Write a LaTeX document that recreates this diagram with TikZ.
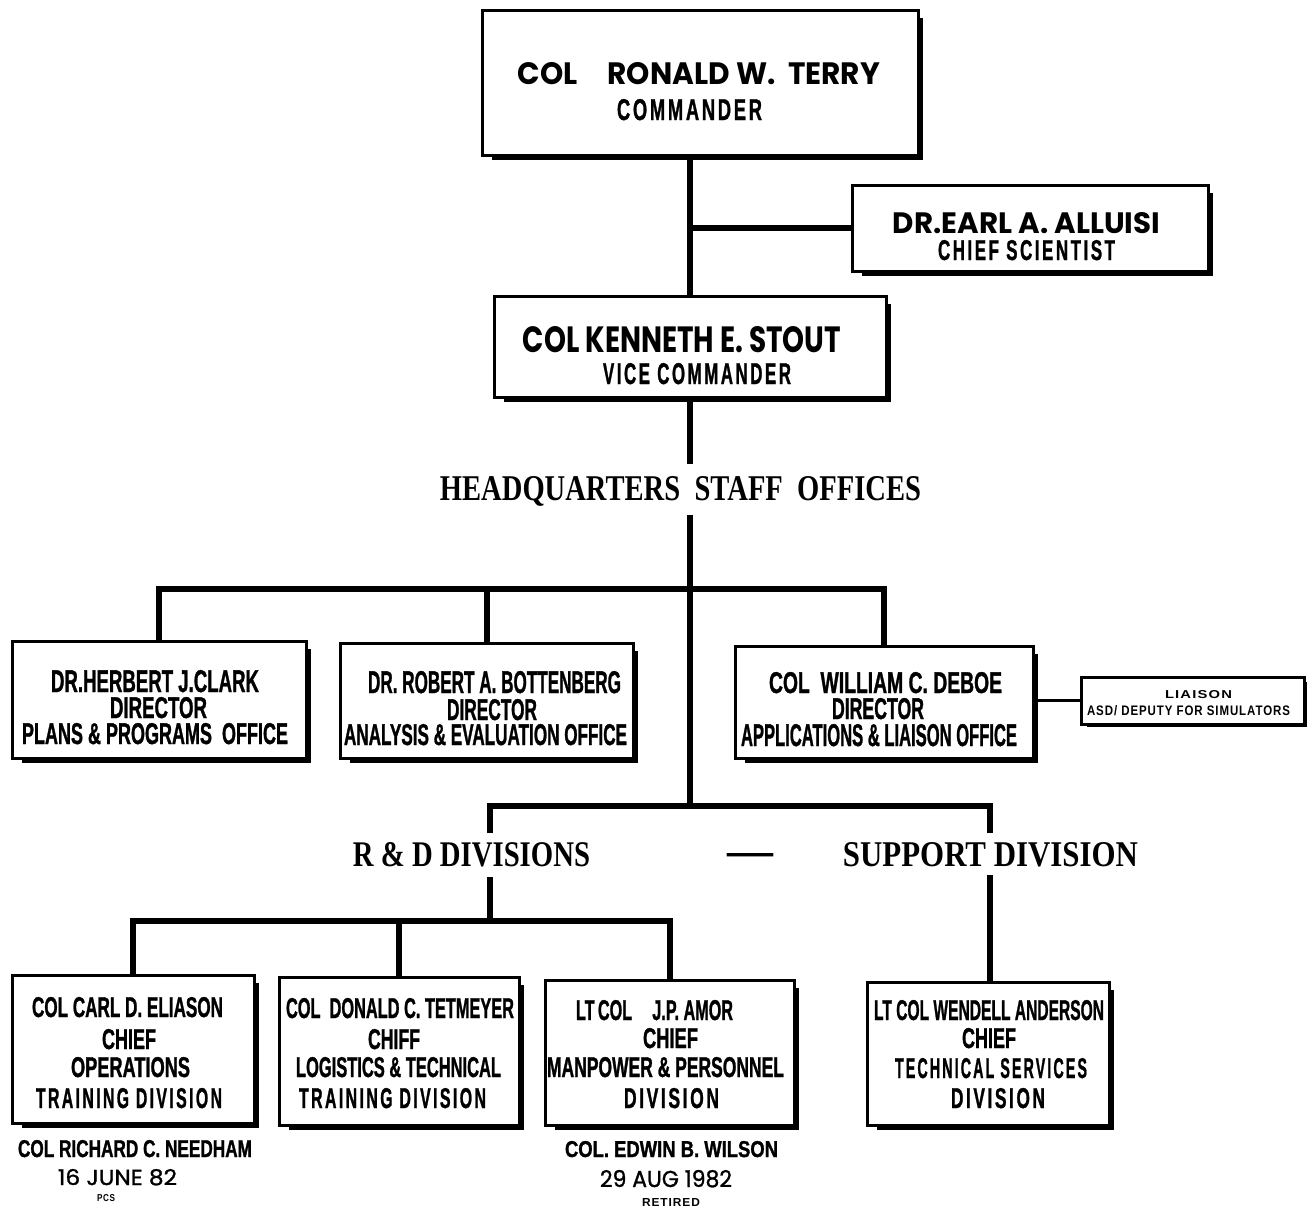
\documentclass[tikz,border=0pt]{standalone}
\usepackage{fontspec}
\usepackage{graphicx}
\setmainfont{Liberation Sans}
\newfontfamily\geofont{Poppins}
\newfontfamily\geomedfont{Poppins}[FakeBold=1.2]
\newfontfamily\condfont{Liberation Sans}[FakeStretch=0.8,FakeBold=1.2]
\newfontfamily\spacedfont{Liberation Sans}[FakeStretch=0.8,LetterSpace=12,FakeBold=1.2]
\newfontfamily\widefont{Liberation Sans}[LetterSpace=8]
\newfontfamily\headfont{Liberation Serif}
\newcommand\gsans{\geofont\bfseries}
\newcommand\gmed{\geomedfont}
\newcommand\csans{\condfont\bfseries}
\newcommand\ssans{\spacedfont\bfseries}
\newcommand\wsans{\widefont\bfseries}
\newcommand\hserif{\headfont\bfseries}

\tikzset{
  obox/.style={draw, line width=3pt, inner sep=0pt, outer sep=0pt},
  boxshade/.style={line width=4pt},
  conn/.style={line width=6pt},
  thinconn/.style={line width=3pt},
  lbl/.style={anchor=base, inner sep=0pt, outer sep=0pt},
}
% box: name, centre x, centre y, width, height
\newcommand\obox[5]{\node[obox, minimum width=#4pt, minimum height=#5pt] (#1) at (#2,#3) {};}
% text line: name, font, centre x, baseline y, width, cap height, text
\newcommand\tline[7]{\node[lbl] (#1) at (#3,#4) {\resizebox{#5pt}{#6pt}{#2#7}};}

\begin{document}
\begin{tikzpicture}[x=1pt,y=-1pt]
\path[use as bounding box, fill=white] (0,0) rectangle (1312,1211);

% boxes
\obox{cmd}{700}{82.5}{436}{145}
\obox{sci}{1030}{228}{356}{86}
\obox{vice}{690}{346.5}{392}{101}
\obox{plans}{159}{699.5}{294}{117}
\obox{anal}{486.5}{700.5}{293}{115}
\obox{appl}{884}{702}{298}{112}
\obox{liai}{1192.5}{700.5}{223}{47}
\obox{ops}{133}{1049}{242}{148}
\obox{logi}{399}{1051}{240}{148}
\obox{man}{669.5}{1052.5}{249}{145}
\obox{tech}{988}{1053.5}{242}{143}

% heavy lower-right edges
\foreach \b in {cmd,sci,vice,plans,anal,appl,ops,logi,man,tech}
  \draw[boxshade] ([xshift=3pt,yshift=-8pt]\b.north east) -- ([xshift=3pt,yshift=-3pt]\b.south east) -- ([xshift=10pt,yshift=-3pt]\b.south west);
\draw[line width=2pt] ([xshift=2pt,yshift=-5pt]liai.north east) -- ([xshift=2pt,yshift=-2pt]liai.south east) -- ([xshift=6pt,yshift=-2pt]liai.south west);

% texts
\tline{cmdA}{\gsans}{699}{84}{362}{22}{COL\quad RONALD W.\ \ TERRY}
\tline{cmdB}{\ssans}{689.5}{120}{145}{21}{COMMANDER}
\tline{sciA}{\gsans}{1026.5}{233}{267}{21}{DR.EARL A. ALLUISI}
\tline{sciB}{\ssans}{1026.5}{260}{177}{20}{CHIEF SCIENTIST}
\tline{viceA}{\gsans}{682}{352}{318}{26}{COL KENNETH E. STOUT}
\tline{viceB}{\ssans}{697}{384}{188}{21}{VICE COMMANDER}
\tline{hq}{\hserif}{680.5}{500}{481}{24}{HEADQUARTERS\ \ STAFF\ \ OFFICES}

\tline{plansA}{\csans}{155}{692}{208}{22}{DR.HERBERT J.CLARK}
\tline{plansB}{\csans}{158.5}{718}{97}{21}{DIRECTOR}
\tline{plansC}{\csans}{155}{744}{266}{21}{PLANS \& PROGRAMS\ \ OFFICE}
\tline{analA}{\csans}{494.5}{693}{253}{22}{DR. ROBERT A. BOTTENBERG}
\tline{analB}{\csans}{492}{720}{90}{21}{DIRECTOR}
\tline{analC}{\csans}{485.5}{745}{283}{21}{ANALYSIS \& EVALUATION OFFICE}
\tline{applA}{\csans}{885.5}{693}{233}{21}{COL\ \ WILLIAM C. DEBOE}
\tline{applB}{\csans}{878}{719}{92}{21}{DIRECTOR}
\tline{applC}{\csans}{879}{746}{276}{22}{APPLICATIONS \& LIAISON OFFICE}
\tline{liaiA}{\wsans}{1198.5}{698}{67}{8}{LIAISON}
\tline{liaiB}{\wsans}{1188.5}{715}{203}{10}{ASD/ DEPUTY FOR SIMULATORS}

\tline{rd}{\hserif}{471.5}{866}{237}{24}{R \& D DIVISIONS}
\tline{dash}{\hserif}{750}{866}{46}{13}{—}
\tline{sup}{\hserif}{990.5}{866}{295}{24}{SUPPORT DIVISION}

\tline{opsA}{\csans}{127.5}{1017}{191}{20}{COL CARL D. ELIASON}
\tline{opsB}{\csans}{129}{1049}{54}{20}{CHIEF}
\tline{opsC}{\csans}{130.5}{1077}{119}{20}{OPERATIONS}
\tline{opsD}{\ssans}{129}{1108}{186}{20}{TRAINING DIVISION}
\tline{logiA}{\csans}{400}{1018}{228}{20}{COL\ \ DONALD C. TETMEYER}
\tline{logiB}{\csans}{394}{1049}{52}{20}{CHIFF}
\tline{logiC}{\csans}{398.5}{1077}{205}{20}{LOGISTICS \& TECHNICAL}
\tline{logiD}{\ssans}{392.5}{1108}{187}{20}{TRAINING DIVISION}
\tline{manA}{\csans}{654.5}{1020}{157}{20}{LT\,COL\quad J.P. AMOR}
\tline{manB}{\csans}{670.5}{1048}{55}{20}{CHIEF}
\tline{manC}{\csans}{665.5}{1077}{237}{20}{MANPOWER \& PERSONNEL}
\tline{manD}{\ssans}{671.5}{1108}{95}{20}{DIVISION}
\tline{techA}{\csans}{989}{1020}{230}{20}{LT COL WENDELL ANDERSON}
\tline{techB}{\csans}{989}{1048}{54}{20}{CHIEF}
\tline{techC}{\ssans}{991}{1078}{192}{20}{TECHNICAL SERVICES}
\tline{techD}{\ssans}{998}{1108}{94}{20}{DIVISION}

\tline{oldA}{\csans}{135}{1157}{234}{17}{COL RICHARD C. NEEDHAM}
\tline{oldB}{\gmed}{117.5}{1185}{119}{16}{16 JUNE 82}
\tline{oldC}{\wsans}{106}{1201}{18}{7}{PCS}
\tline{newA}{\csans}{671.5}{1157}{213}{16}{COL. EDWIN B. WILSON}
\tline{newB}{\gmed}{666}{1187}{132}{17}{29 AUG 1982}
\tline{newC}{\wsans}{671}{1206}{58}{8}{RETIRED}

% connectors
\coordinate (hqbar) at (0,589);
\coordinate (rdx) at (490,806);
\coordinate (supx) at (990,806);
\coordinate (lowbar) at (0,921);

\draw[conn] (cmd.south -| vice.north) -- (vice.north);
\draw[conn] (sci.west) -- (sci.west -| vice.north);
\draw[conn] (vice.south) -- ([yshift=12pt]hq.north -| vice.south);
\draw[conn] ([yshift=-15pt]hq.base -| vice.south) -- (vice.south |- rdx);
\draw[conn] (plans.north) -- (plans.north |- hqbar) -- (appl.north |- hqbar) -- (appl.north);
\draw[conn] (anal.north) -- (anal.north |- hqbar);
\draw[thinconn] (appl.east |- liai.west) -- (liai.west);
\draw[conn] ([yshift=9pt]rd.north -| rdx) -- (rdx) -- (supx) -- ([yshift=9pt]sup.north -| supx);
\draw[conn] ([yshift=-11pt]rd.base -| rdx) -- (rdx |- lowbar);
\draw[conn] (ops.north) -- (ops.north |- lowbar) -- (man.north |- lowbar) -- (man.north);
\draw[conn] (logi.north) -- (logi.north |- lowbar);
\draw[conn] ([yshift=-9pt]sup.base -| supx) -- (supx |- tech.north);
\end{tikzpicture}
\end{document}
